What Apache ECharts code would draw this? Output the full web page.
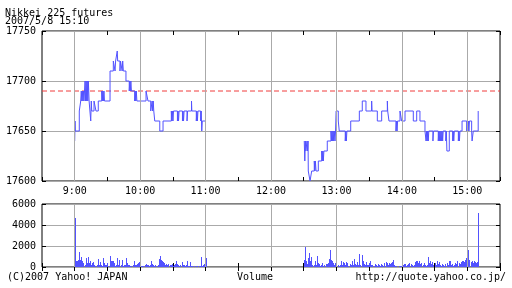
<!DOCTYPE html>
<html><head><meta charset="utf-8">
<script src="https://cdn.jsdelivr.net/npm/echarts@6/dist/echarts.min.js"></script>
<style>html,body{margin:0;padding:0;background:#fff}#c{width:512px;height:288px}</style>
</head><body><div id="c"></div>
<script>
const titleText = 'Nikkei 225 futures';
const dateText = '2007/5/8 15:10';
const footLeft = '(C)2007 Yahoo! JAPAN';
const footMid = 'Volume';
const footRight = 'http://quote.yahoo.co.jp/';
const hourTicks = [9, 10, 11, 12, 13, 14, 15];
const priceTicks = [17600, 17650, 17700, 17750];
const volTicks = [0, 2000, 4000, 6000];
const prevClose = 17690;

// morning session: minutes after 9:00 -> price (change points)
const amT = [0,0.3,0.6,4.2,5.5,6,6.5,7,7.5,8,8.5,9.5,10,10.5,11,11.5,12,12.5,13.2,14.7,15.2,15.6,17.7,19.5,21.6,
  24.8,25.3,25.8,26.3,26.8,27.3,32.4,35.4,37,37.5,39,39.4,41.5,42,43.5,44,44.6,47,50,50.5,51,51.5,52,55,55.5,56,56.5,57,
  65.4,67.2,69.7,71,71.5,72,72.5,73.4,78,81,88.6,89.1,89.6,90.1,90.6,94.2,94.7,95.2,95.7,98.8,99.3,99.8,100.3,103,103.5,
  107.1,107.4,111.5,112,112.5,113,115.5,116,116.5,117,120];
const amV = [17640,17660,17650,17670,17680,17690,17680,17690,17680,17690,17680,17700,17680,17700,17680,17700,17680,17700,17680,17660,17680,17670,17680,17670,17680,
  17690,17680,17690,17680,17690,17680,17710,17720,17710,17720,17730,17720,17710,17720,17710,17720,17710,17700,17690,17700,17690,17700,17690,17680,17690,17680,17690,17680,
  17690,17680,17670,17680,17670,17680,17670,17660,17650,17660,17670,17660,17670,17660,17670,17660,17670,17660,17670,17660,17670,17660,17670,17660,17670,
  17680,17670,17660,17670,17660,17670,17660,17670,17650,17660,17660];

// afternoon session: minutes after 9:00 -> price (change points)
const pmT = [210.5,211,211.5,212,213,213.5,214,214.2,215.8,217.3,219.7,220.2,220.7,221.3,223.4,226.5,227,227.5,228,228.5,231.6,
  235,235.5,236,236.5,237,237.5,238,238.7,239.2,239.7,241.7,242.6,248.1,248.6,249.1,249.6,253.1,261,263.7,267.1,272.3,272.6,
  277.5,281.5,286.7,287,288.2,294.6,295.1,295.6,296.1,298.3,299.8,302.9,310.5,313.6,316.6,321.2,322.2,322.7,323.2,323.7,324.2,324.7,
  328.5,329,333.4,333.9,334.4,334.9,335.4,335.9,336.4,336.9,337.4,337.9,340.3,340.8,341.3,343.5,346.6,347.1,347.6,348.1,
  351.8,352.3,352.8,353.3,355.2,359.5,360,360.5,361,361.5,362,364,364.4,365.5,370];
const pmV = [17640,17620,17640,17630,17640,17630,17640,17610,17600,17610,17620,17610,17620,17610,17620,17630,17620,17630,17620,17630,17640,
  17650,17640,17650,17640,17650,17640,17650,17640,17650,17670,17660,17650,17640,17650,17640,17650,17660,17670,17680,17670,17680,17670,
  17660,17670,17680,17670,17660,17650,17660,17650,17660,17670,17660,17670,17660,17670,17660,17650,17640,17650,17640,17650,17640,17650,
  17640,17650,17640,17650,17640,17650,17640,17650,17640,17650,17640,17650,17640,17650,17630,17650,17640,17650,17640,17650,
  17640,17650,17640,17650,17660,17650,17660,17650,17660,17650,17660,17650,17640,17650,17670];

// volume per minute, from 9:00 (121 values) and from 12:30 (161 values)
const volAM = [4700,550,600,700,1390,700,1000,540,380,220,860,380,950,380,600,220,380,440,200,60,
  150,760,220,440,220,100,860,380,200,200,380,100,1080,540,540,540,380,100,150,860,
  220,630,220,630,100,220,150,860,380,200,220,100,100,150,600,220,220,320,380,440,
  540,100,100,50,150,320,200,220,100,200,600,300,200,100,200,50,200,760,1080,700,
  540,440,380,220,320,220,320,220,200,320,100,200,320,540,320,200,100,150,440,150,
  200,50,150,540,100,50,440,100,100,50,0,100,50,0,100,50,920,100,200,320,820];
const volPM = [700,1950,550,300,850,1330,600,1000,200,150,550,200,1080,400,300,50,200,350,100,150,
  300,250,400,760,1580,700,550,400,200,400,300,200,100,200,570,200,450,400,200,450,
  400,100,300,150,600,200,750,300,200,450,150,1270,200,1170,550,300,200,450,200,200,
  400,550,200,200,100,300,200,100,300,200,100,300,200,100,400,450,350,200,400,300,
  400,450,630,200,100,50,0,100,50,100,550,200,300,250,100,200,300,400,300,200,
  100,200,500,600,600,400,550,300,400,200,400,200,100,200,950,400,600,300,500,200,
  400,200,550,250,450,150,100,300,200,100,300,400,200,550,600,200,300,100,200,400,
  300,550,400,300,450,550,600,500,650,860,600,1650,700,450,550,400,550,450,400,500,5150];

const FONT = '"DejaVu Sans Mono", monospace';
const BLUE = '#5252ff';
const GRIDC = '#aaaaaa';
const RED = '#f03c3c';

const amData = amT.map((t, i) => [540 + t, amV[i]]);
const pmData = pmT.map((t, i) => [540 + t, pmV[i]]);
const volData = volAM.map((v, i) => [540 + i, v]).concat(volPM.map((v, i) => [750 + i, v]));

const tickStyle = {show: true, inside: true, length: 4, lineStyle: {color: '#000', width: 1}};
const lbl = {fontFamily: FONT, fontSize: 10, color: '#000'};
function xAx(grid, pos, labels) {
  return {type: 'value', gridIndex: grid, position: pos, min: 510, max: 930, interval: 30,
    axisLine: {show: false}, axisTick: tickStyle, splitLine: {show: false},
    axisLabel: labels ? Object.assign({margin: 5, formatter: v => (v % 60 === 0 && hourTicks.includes(v / 60)) ? (v / 60) + ':00' : ''}, lbl) : {show: false}};
}
function yAx(grid, pos, ticks, labels, split) {
  return {type: 'value', gridIndex: grid, position: pos, min: ticks[0], max: ticks[ticks.length - 1],
    interval: ticks[1] - ticks[0], axisLine: {show: false}, axisTick: tickStyle,
    splitLine: {show: split, lineStyle: {color: GRIDC, width: 1}},
    axisLabel: labels ? Object.assign({margin: 6, formatter: v => String(v)}, lbl) : {show: false}};
}
const hourLines = hourTicks.map(h => ({xAxis: h * 60}));
function dummy(xi, yi, y0, lines, style, z) {
  return {type: 'line', xAxisIndex: xi, yAxisIndex: yi, z: z, data: [[510, y0]], symbol: 'none',
    lineStyle: {opacity: 0}, silent: true,
    markLine: {silent: true, symbol: 'none', label: {show: false}, animation: false, lineStyle: style, data: lines}};
}

const option = {
  animation: false,
  grid: [
    {left: 42, top: 31, width: 458, height: 150, show: true, borderColor: '#000', borderWidth: 1},
    {left: 42, top: 204, width: 458, height: 63, show: true, borderColor: '#000', borderWidth: 1}
  ],
  xAxis: [xAx(0, 'bottom', true), xAx(0, 'top', false), xAx(1, 'bottom', false), xAx(1, 'top', false)],
  yAxis: [yAx(0, 'left', priceTicks, true, true), yAx(0, 'right', priceTicks, false, false),
          yAx(1, 'left', volTicks, true, true), yAx(1, 'right', volTicks, false, false)],
  graphic: [
    {type: 'text', left: 5, top: 8, style: {text: titleText, font: '10px ' + FONT, fill: '#000'}},
    {type: 'text', left: 5, top: 16, style: {text: dateText, font: '10px ' + FONT, fill: '#000'}},
    {type: 'text', left: 7, top: 272, style: {text: footLeft, font: '10px ' + FONT, fill: '#000'}},
    {type: 'text', left: 237, top: 272, style: {text: footMid, font: '10px ' + FONT, fill: '#000'}},
    {type: 'text', right: 6, top: 272, style: {text: footRight, font: '10px ' + FONT, fill: '#000'}}
  ],
  series: [
    dummy(0, 0, 17600, hourLines, {color: GRIDC, type: 'solid', width: 1}, 1),
    dummy(2, 2, 0, hourLines, {color: GRIDC, type: 'solid', width: 1}, 1),
    {type: 'line', xAxisIndex: 0, yAxisIndex: 0, z: 2, symbol: 'none', silent: true,
     data: [[510, prevClose], [930, prevClose]],
     lineStyle: {color: RED, width: 1, type: [5, 3]}, itemStyle: {color: RED}},
    {type: 'line', xAxisIndex: 0, yAxisIndex: 0, z: 3, step: 'end', symbol: 'none', data: amData, lineStyle: {color: BLUE, width: 1}},
    {type: 'line', xAxisIndex: 0, yAxisIndex: 0, z: 3, step: 'end', symbol: 'none', data: pmData, lineStyle: {color: BLUE, width: 1}},
    {type: 'custom', xAxisIndex: 2, yAxisIndex: 2, z: 3, data: volData,
     renderItem: function (params, api) {
       const top = api.coord([api.value(0), api.value(1)]);
       const base = api.coord([api.value(0), 0]);
       const x = Math.round(top[0]);
       const y0 = Math.round(base[1]);
       const y1 = Math.round(top[1]);
       return {type: 'rect', shape: {x: x, y: y1, width: 1, height: Math.max(0, y0 - y1)},
               style: {fill: BLUE}};
     }}
  ]
};
const chart = echarts.init(document.getElementById('c'), null, {renderer: 'canvas'});
chart.setOption(option);
</script>
</body></html>
